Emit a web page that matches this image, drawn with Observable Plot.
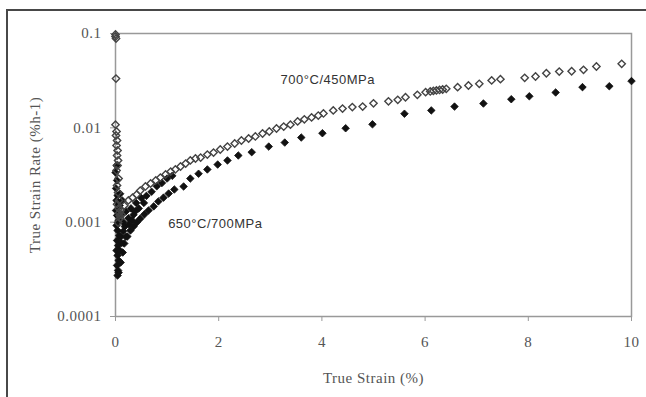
<!DOCTYPE html>
<html>
<head>
<meta charset="utf-8">
<script src="https://cdn.jsdelivr.net/npm/d3@7"></script>
<script src="https://cdn.jsdelivr.net/npm/@observablehq/plot@0.6"></script>
<style>
  html, body { margin: 0; padding: 0; background: #fff; }
  #wrap { position: relative; width: 646px; height: 397px; overflow: hidden; }
  #border { position: absolute; left: 6px; top: 9px; width: 700px; height: 450px; border: 2px solid #484848; box-sizing: border-box; }
  #chart { position: absolute; left: 0; top: 0; }
</style>
</head>
<body>
<div id="wrap"><div id="border"></div><div id="chart"></div></div>
<script>
// Series 1: 700°C/450MPa (open diamonds)
const strainA = [0.00,0.00,0.01,0.01,0.00,0.02,0.01,0.03,0.02,0.04,0.03,0.05,0.04,0.02,0.06,0.03,0.05,0.07,0.06,0.08,0.05,0.03,0.07,0.09,0.12,
  0.10,0.17,0.25,0.33,0.41,0.48,0.58,0.68,0.78,0.87,0.97,1.07,1.16,1.26,1.36,1.45,1.55,1.65,1.78,1.90,2.03,2.17,2.31,2.44,2.58,2.71,2.85,2.98,3.12,3.26,3.39,3.53,3.66,3.80,3.93,4.03,4.22,4.40,4.59,4.79,5.00,5.29,5.47,5.62,5.85,6.01,6.10,6.16,6.22,6.28,6.34,6.41,6.63,6.84,7.05,7.29,7.46,7.93,8.14,8.35,8.60,8.84,9.07,9.32,9.81];
const rateA = [0.0976,0.0929,0.0885,0.0333,0.0108,0.00914,0.00829,0.00734,0.00650,0.00575,0.00509,0.00451,0.00399,0.00353,0.00290,0.00245,0.00206,0.00170,0.00140,0.00118,0.00099,0.00155,0.00125,0.00110,0.00120,
  0.00133,0.00150,0.00170,0.00182,0.00196,0.00216,0.00239,0.00257,0.00277,0.00297,0.00320,0.00344,0.00362,0.00389,0.00418,0.00451,0.00473,0.00484,0.00521,0.00547,0.00589,0.00633,0.00682,0.00734,0.00771,0.00810,0.00871,0.00914,0.00984,0.0103,0.0108,0.0117,0.0123,0.0129,0.0135,0.0142,0.0153,0.0160,0.0166,0.0168,0.0182,0.0191,0.0198,0.0211,0.0224,0.0239,0.0243,0.0246,0.0249,0.0252,0.0255,0.0259,0.0270,0.0281,0.0293,0.0318,0.0328,0.0339,0.0350,0.0379,0.0395,0.0398,0.0412,0.0447,0.0477];

// Series 2: 650°C/700MPa (filled diamonds)
const strainB = [0.02,0.00,0.03,0.01,0.04,0.02,0.05,0.01,0.03,0.06,0.02,0.04,0.07,0.03,0.05,0.02,0.04,0.06,0.03,0.05,0.04,
  0.06,0.10,0.14,0.17,0.23,0.29,0.35,0.41,0.48,0.56,0.64,0.74,0.83,0.93,1.03,1.14,1.32,1.45,1.61,1.78,1.98,2.17,2.38,2.64,2.97,3.28,3.60,4.01,4.46,4.98,5.60,6.12,6.57,7.13,7.67,8.02,8.53,9.05,9.57,10.0,
  0.08,0.12,0.15,0.18,0.20,0.25,0.30,0.35,0.40,0.45,0.50,0.55,0.60,0.70,0.80,0.90,1.00,1.10,0.10,0.12,0.08,0.15,0.20,0.09,0.13,0.26,0.32,0.38];
const rateB = [0.00399,0.00336,0.00277,0.00228,0.00192,0.00170,0.00150,0.00133,0.00118,0.00104,0.000923,0.000817,0.000723,0.000640,0.000566,0.000501,0.000444,0.000393,0.000348,0.000308,0.000272,
  0.000292,0.000374,0.000477,0.000594,0.000705,0.000817,0.000900,0.00099,0.00109,0.00121,0.00133,0.00147,0.00166,0.00182,0.00201,0.00222,0.00239,0.00290,0.00326,0.00362,0.00408,0.00451,0.00509,0.00552,0.00633,0.00698,0.00789,0.00877,0.00990,0.0109,0.0141,0.0153,0.0168,0.0181,0.0201,0.0216,0.0237,0.0270,0.0276,0.0313,
  0.00150,0.00120,0.00100,0.00090,0.00130,0.00110,0.00140,0.00120,0.00160,0.00140,0.00180,0.00160,0.00190,0.00210,0.00240,0.00260,0.00290,0.00310,0.00070,0.00060,0.00050,0.00080,0.00070,0.00200,0.00170,0.00095,0.00105,0.00130];

const xTicks = [0, 2, 4, 6, 8, 10];
const yTicks = [0.0001, 0.001, 0.01, 0.1];
const yTickLabels = ["0.0001", "0.001", "0.01", "0.1"];

const labels = [
  {x: 3.2, y: 0.0325, text: "700°C/450MPa"},
  {x: 1.02, y: 0.00095, text: "650°C/700MPa"}
];

const dataA = strainA.map((s, i) => ({x: s, y: rateA[i]}));
const dataB = strainB.map((s, i) => ({x: s, y: rateB[i]}));

const chart = Plot.plot({
  width: 646,
  height: 397,
  marginLeft: 115,
  marginTop: 33,
  marginRight: 15,
  marginBottom: 81,
  style: {fontFamily: "'Liberation Serif', serif", fontSize: "15px", color: "#555", background: "transparent", letterSpacing: "0.5px"},
  x: {domain: [0, 10]},
  y: {type: "log", domain: [0.0001, 0.1]},
  marks: [
    Plot.frame({stroke: "#999", strokeWidth: 1.5}),
    Plot.axisX({ticks: xTicks, tickFormat: d => String(d), tickSize: 5, tickPadding: 15, stroke: "#999",
      label: "True Strain (%)", labelAnchor: "center", labelArrow: "none", labelOffset: 66, fill: "#555"}),
    Plot.axisY({ticks: yTicks, tickFormat: d => yTickLabels[yTicks.indexOf(d)], tickSize: 5, tickPadding: 9, stroke: "#999",
      label: "True Strain Rate (%h-1)", labelAnchor: "center", labelArrow: "none", labelOffset: 86, fill: "#555"}),
    Plot.dot(dataB, {x: "x", y: "y", symbol: "diamond2", r: 3.4, fill: "#111", stroke: "#111", strokeWidth: 0.8}),
    Plot.dot(dataA, {x: "x", y: "y", symbol: "diamond2", r: 3.3, fill: "none", stroke: "#444", strokeWidth: 1.4}),
    Plot.text(labels, {x: "x", y: "y", text: "text", textAnchor: "start", fontFamily: "'Liberation Sans', Arial, sans-serif", fontSize: 13, letterSpacing: "0.4px", fill: "#333"})
  ]
});
document.getElementById("chart").appendChild(chart);
</script>
</body>
</html>
